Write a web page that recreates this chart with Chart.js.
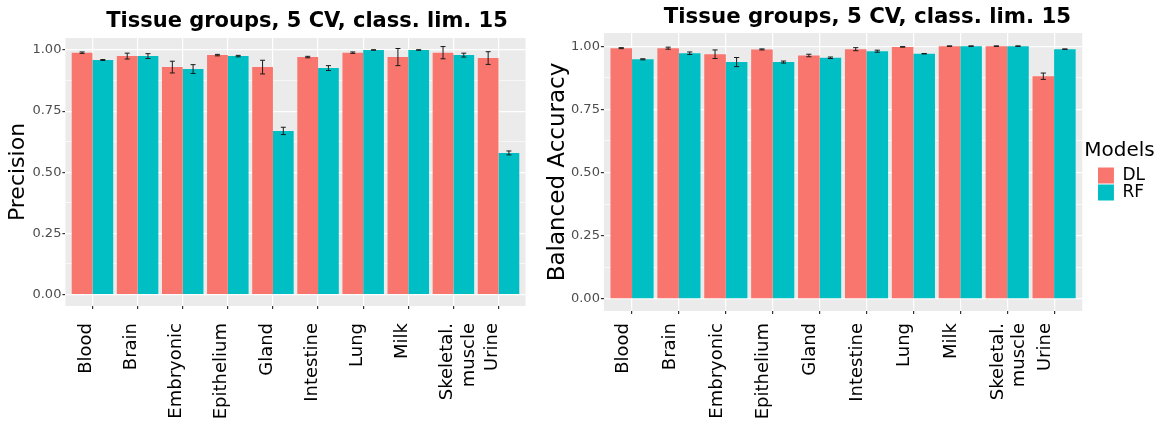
<!DOCTYPE html>
<html><head><meta charset="utf-8">
<script src="https://cdn.jsdelivr.net/npm/chart.js@4.4.0/dist/chart.umd.min.js"></script>
<style>
html,body{margin:0;padding:0;background:#fff;}
#wrap{position:relative;width:1163px;height:424px;overflow:hidden;background:#fff;}
#c1{position:absolute;left:0;top:0;}
#c2{position:absolute;left:540px;top:0;}
</style></head><body>
<div id="wrap">
<canvas id="c1" width="540" height="424"></canvas>
<canvas id="c2" width="623" height="424"></canvas>
</div>
<script>
// ---------- data ----------
const categories = ['Blood','Brain','Embryonic','Epithelium','Gland','Intestine','Lung','Milk',['Skeletal.','muscle'],'Urine'];
const seriesNames = ['DL','RF'];

const precisionDL    = [0.989, 0.975, 0.930, 0.979, 0.930, 0.971, 0.989, 0.971, 0.989, 0.967];
const precisionDLErr = [0.003, 0.012, 0.024, 0.003, 0.028, 0.003, 0.003, 0.035, 0.025, 0.026];
const precisionRF    = [0.959, 0.975, 0.922, 0.975, 0.669, 0.926, 1.000, 1.000, 0.979, 0.579];
const precisionRFErr = [0.002, 0.010, 0.018, 0.003, 0.015, 0.010, 0.001, 0.001, 0.008, 0.008];

const balancedDL    = [0.992, 0.992, 0.968, 0.987, 0.963, 0.988, 0.997, 1.000, 1.000, 0.881];
const balancedDLErr = [0.002, 0.004, 0.017, 0.002, 0.005, 0.006, 0.001, 0.001, 0.001, 0.0125];
const balancedRF    = [0.948, 0.972, 0.937, 0.937, 0.954, 0.980, 0.970, 1.000, 1.000, 0.988];
const balancedRFErr = [0.002, 0.005, 0.018, 0.004, 0.003, 0.004, 0.001, 0.001, 0.001, 0.001];

const yTicks = [0, 0.25, 0.5, 0.75, 1];
const yTickLabels = ['0.00', '0.25', '0.50', '0.75', '1.00'];
const chartTitle = 'Tissue groups, 5 CV, class. lim. 15';
const leftYTitle = 'Precision';
const rightYTitle = 'Balanced Accuracy';
const legendTitle = 'Models';

// ---------- styling ----------
const COLORS = ['#F8766D', '#00BFC4'];
const FONT = "'DejaVu Sans', sans-serif";

function makeData(series, errs) {
  return {
    datasets: series.map((vals, s) => ({
      label: seriesNames[s],
      data: vals.map((v, i) => ({ x: i + 1, y: v })),
      errors: errs[s],
      backgroundColor: COLORS[s],
      borderWidth: 0,
      categoryPercentage: 0.92,
      barPercentage: 1.0
    }))
  };
}

function yAxis(cfg) {
  return {
    type: 'linear', min: cfg.min, max: cfg.max,
    afterBuildTicks(scale) {
      const vals = [];
      yTicks.forEach((v, i) => {
        vals.push({ value: v, major: true });
        if (i < yTicks.length - 1) vals.push({ value: (v + yTicks[i + 1]) / 2, major: false });
      });
      scale.ticks = vals;
    },
    afterFit(scale) { scale.width = cfg.width; },
    ticks: {
      autoSkip: false,
      callback: (v) => { const k = yTicks.indexOf(v); return k >= 0 ? yTickLabels[k] : ''; },
      font: { family: FONT, size: 13 }, color: '#4D4D4D', padding: 1
    },
    grid: {
      color: '#FFFFFF',
      lineWidth: (c) => (c.tick && c.tick.major) ? 1.2 : 0.6,
      tickColor: (c) => (c.tick && c.tick.major) ? '#333333' : 'rgba(0,0,0,0)',
      tickLength: 3, drawTicks: true
    },
    border: { display: false },
    title: { display: true, text: cfg.title, color: '#000', font: { family: FONT, size: cfg.titleSize }, padding: { top: cfg.titlePad, bottom: 0 } }
  };
}

function xAxis(cfg) {
  return {
    type: 'linear', min: 0.4, max: categories.length + 0.6, offset: false,
    afterBuildTicks(scale) { scale.ticks = categories.map((c, i) => ({ value: i + 1 })); },
    afterFit(scale) { scale.height = cfg.height; },
    ticks: {
      autoSkip: false, minRotation: 90, maxRotation: 90,
      callback: (v) => categories[Math.round(v) - 1],
      font: { family: FONT, size: 18 }, color: '#000', padding: cfg.pad, labelOffset: cfg.labelOffset
    },
    grid: { color: '#FFFFFF', lineWidth: 1.2, tickColor: '#333333', tickLength: 3, offset: false },
    border: { display: false }
  };
}

const bgPlugin = {
  id: 'panelBg',
  beforeDraw(chart) {
    const { ctx, chartArea: a } = chart;
    ctx.save();
    ctx.fillStyle = '#FFFFFF';
    ctx.fillRect(0, 0, chart.width, chart.height);
    ctx.fillStyle = '#EBEBEB';
    ctx.fillRect(a.left, a.top, a.right - a.left, a.bottom - a.top);
    ctx.restore();
  }
};

const errPlugin = {
  id: 'errBars',
  afterDatasetsDraw(chart) {
    const { ctx } = chart;
    const ys = chart.scales.y;
    ctx.save();
    ctx.strokeStyle = '#1a1a1a';
    ctx.lineWidth = 1;
    chart.data.datasets.forEach((ds, di) => {
      const meta = chart.getDatasetMeta(di);
      meta.data.forEach((el, i) => {
        const v = ds.data[i].y, e = ds.errors[i];
        const yt = ys.getPixelForValue(v + e), yb = ys.getPixelForValue(v - e);
        const cw = el.width * 0.12;
        ctx.beginPath();
        ctx.moveTo(el.x, yt); ctx.lineTo(el.x, yb);
        ctx.moveTo(el.x - cw, yt); ctx.lineTo(el.x + cw, yt);
        ctx.moveTo(el.x - cw, yb); ctx.lineTo(el.x + cw, yb);
        ctx.stroke();
      });
    });
    ctx.restore();
  }
};

const titlePlugin = {
  id: 'panelTitle',
  afterDraw(chart, args, opts) {
    const { ctx, chartArea: a } = chart;
    ctx.save();
    ctx.fillStyle = '#000';
    ctx.font = 'bold ' + opts.size + "px 'DejaVu Sans', sans-serif";
    ctx.textAlign = 'center';
    ctx.textBaseline = 'alphabetic';
    ctx.fillText(opts.text, (a.left + a.right) / 2 + opts.dx, opts.baseline);
    if (opts.legendTitle && chart.legend && chart.legend.legendHitBoxes.length) {
      const hb = chart.legend.legendHitBoxes[0];
      ctx.font = '20px ' + FONT;
      ctx.textAlign = 'left';
      ctx.textBaseline = 'middle';
      ctx.fillText(opts.legendTitle, a.right + 2, hb.top - 16);
    }
    ctx.restore();
  }
};

// ---------- left chart ----------
new Chart(document.getElementById('c1'), {
  type: 'bar',
  data: makeData([precisionDL, precisionRF], [precisionDLErr, precisionRFErr]),
  options: {
    responsive: false, animation: false,
    layout: { padding: { left: 0, right: 14.4, top: 38, bottom: 0 } },
    scales: {
      x: xAxis({ height: 118, pad: 14, labelOffset: -6 }),
      y: yAxis({ min: -0.047, max: 1.049, width: 65.4, title: leftYTitle, titleSize: 22, titlePad: 5 })
    },
    plugins: {
      legend: { display: false },
      tooltip: { enabled: false },
      panelTitle: { text: chartTitle, dx: 11.5, baseline: 26.5, size: 21 }
    }
  },
  plugins: [bgPlugin, errPlugin, titlePlugin]
});

// ---------- right chart ----------
new Chart(document.getElementById('c2'), {
  type: 'bar',
  data: makeData([balancedDL, balancedRF], [balancedDLErr, balancedRFErr]),
  options: {
    responsive: false, animation: false,
    layout: { padding: { left: 0, right: 8, top: 33, bottom: 0 } },
    scales: {
      x: xAxis({ height: 113, pad: 9, labelOffset: -9 }),
      y: yAxis({ min: -0.048, max: 1.052, width: 63.9, title: rightYTitle, titleSize: 23, titlePad: 4 }),
      ySpacer: {
        type: 'linear', position: 'right', display: true,
        ticks: { display: false }, grid: { display: false, drawTicks: false }, border: { display: false },
        afterFit(s) { s.width = 15.7; }
      }
    },
    plugins: {
      legend: {
        display: true, position: 'right', align: 'center', fullSize: false,
        title: { display: true, text: ' ', font: { family: FONT, size: 20 }, padding: { top: 0, bottom: 0 } },
        labels: { boxWidth: 16, boxHeight: 16, padding: 0, color: '#000', font: { family: FONT, size: 17 } }
      },
      tooltip: { enabled: false },
      panelTitle: { text: chartTitle, dx: 24.4, baseline: 22.5, size: 21.3, legendTitle: legendTitle }
    }
  },
  plugins: [bgPlugin, errPlugin, titlePlugin]
});
</script>
</body></html>
